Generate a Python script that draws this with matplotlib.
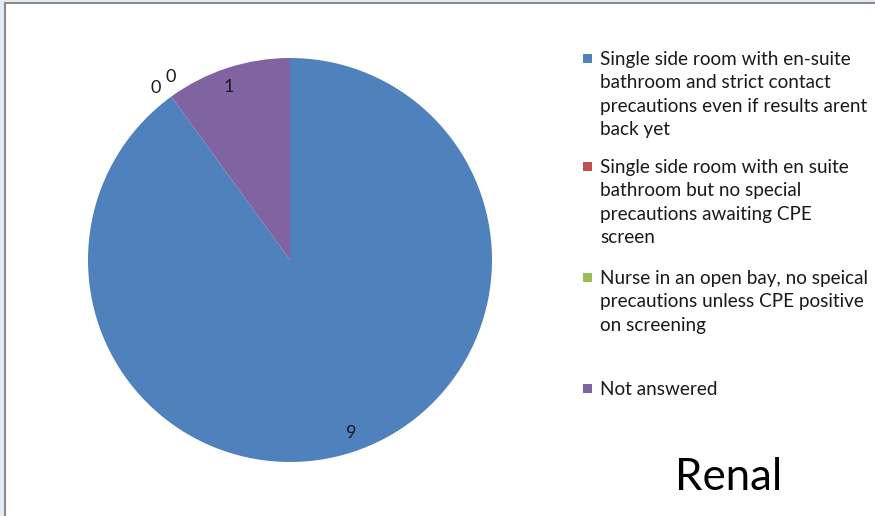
import numpy as np
import matplotlib.pyplot as plt
from matplotlib.patches import Rectangle
from matplotlib.lines import Line2D

plt.rcParams['font.family'] = ['Lato', 'DejaVu Sans']

# data
categories = ['Single side room with en-suite\nbathroom and strict contact\nprecautions even if results arent\nback yet',
              'Single side room with en suite\nbathroom but no special\nprecautions awaiting CPE\nscreen',
              'Nurse in an open bay, no speical\nprecautions unless CPE positive\non screening',
              'Not answered']
values = [9, 0, 0, 1]
colors = ['#4f81bd', '#c0504d', '#9bbb59', '#8064a2']
title = 'Renal'

W, H = 875, 516
fig = plt.figure(figsize=(W / 100, H / 100), dpi=100)
fig.patch.set_facecolor('#e2eef7')

# white chart area with grey left/top border
fig.patches.append(Rectangle((6 / W, 0), 1 - 6 / W, 1 - 4 / H, transform=fig.transFigure,
                             facecolor='white', edgecolor='none', zorder=-5))
fig.lines.append(Line2D([5 / W, 5 / W], [0, 1 - 3 / H], transform=fig.transFigure,
                        color='#8c8c8c', lw=1.5, zorder=-4))
fig.lines.append(Line2D([5 / W, 1], [1 - 3 / H, 1 - 3 / H], transform=fig.transFigure,
                        color='#8c8c8c', lw=1.5, zorder=-4))

# pie
cx, cy, r = 290, 260, 202
ax = fig.add_axes([(cx - r) / W, 1 - (cy + r) / H, 2 * r / W, 2 * r / H])
ax.patch.set_alpha(0)
wedges, texts = ax.pie(values, colors=colors, startangle=90, counterclock=False,
                       labels=[str(v) for v in values], labeldistance=0.9,
                       wedgeprops=dict(linewidth=0),
                       textprops=dict(fontsize=13, color='#1a1a1a'))
ax.set_xlim(-1, 1)
ax.set_ylim(-1, 1)
ax.set_aspect('equal')
ax.axis('off')

# zero-value labels sit just outside the rim at the slice boundary
total = sum(values)
ang = 90 - 360 * sum(values[:1]) / total
for t, off in zip([texts[1], texts[2]], [2.0, -3.0]):
    a = np.deg2rad(ang + off)
    t.set_position((1.08 * np.cos(a), 1.08 * np.sin(a)))
    t.set_ha('center')
    t.set_va('center')

# legend
entry_y = [59, 167, 278, 389]
for lab, col, y in zip(categories, colors, entry_y):
    fig.patches.append(Rectangle((583 / W, 1 - (y + 4) / H), 9 / W, 9 / H,
                                 transform=fig.transFigure, facecolor=col, edgecolor='none'))
    fig.text(600 / W, 1 - (y - 8) / H, lab, ha='left', va='top', fontsize=13.6,
             color='#1a1a1a', linespacing=1.46)

fig.text(729 / W, 1 - 478 / H, title, ha='center', va='center', fontsize=31.5, color='black')

fig.savefig('out.png', dpi=100, facecolor=fig.get_facecolor())
